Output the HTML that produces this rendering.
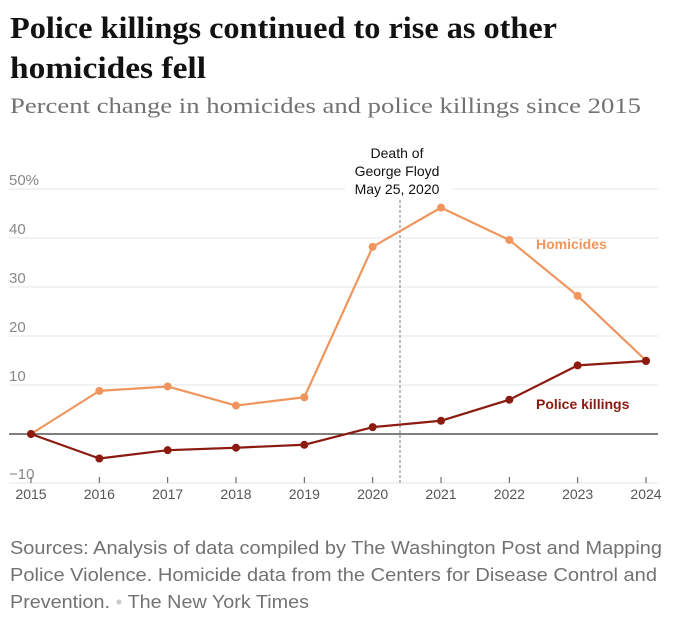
<!DOCTYPE html>
<html><head><meta charset="utf-8"><style>
html,body{margin:0;padding:0;background:#fff;width:680px;height:621px;overflow:hidden}
svg{display:block}
</style></head><body>
<svg id="chart" width="680" height="621" xmlns="http://www.w3.org/2000/svg">
<text x="10" y="38" font-family="Liberation Serif, serif" font-weight="bold" font-size="31" fill="#121212" textLength="547" lengthAdjust="spacingAndGlyphs">Police killings continued to rise as other</text>
<text x="10" y="78" font-family="Liberation Serif, serif" font-weight="bold" font-size="31" fill="#121212" textLength="196" lengthAdjust="spacingAndGlyphs">homicides fell</text>
<text x="10" y="113" font-family="Liberation Serif, serif" font-size="22" fill="#727272" textLength="631" lengthAdjust="spacingAndGlyphs">Percent change in homicides and police killings since 2015</text>
<g id="grid"></g>
<g id="plot"></g>
<text x="10" y="554" font-family="Liberation Sans, sans-serif" font-size="18.5" fill="#727272" textLength="652" lengthAdjust="spacingAndGlyphs">Sources: Analysis of data compiled by The Washington Post and Mapping</text>
<text x="10" y="581" font-family="Liberation Sans, sans-serif" font-size="18.5" fill="#727272" textLength="647" lengthAdjust="spacingAndGlyphs">Police Violence. Homicide data from the Centers for Disease Control and</text>
<text x="10" y="608" font-family="Liberation Sans, sans-serif" font-size="18.5" fill="#727272" textLength="299" lengthAdjust="spacingAndGlyphs">Prevention. <tspan fill="#ccc">•</tspan> The New York Times</text>
</svg>
<script>
const years = [2015,2016,2017,2018,2019,2020,2021,2022,2023,2024];
const homicides = [0,8.8,9.7,5.8,7.5,38.2,46.2,39.6,28.2,15.0];
const policeKillings = [0,-5.0,-3.3,-2.8,-2.2,1.4,2.7,7.0,14.0,14.9];
const yTicks = [-10,0,10,20,30,40,50];
const yTickLabels = ["−10","","10","20","30","40","50%"];
const eventDate = 2020.4;

const NS="http://www.w3.org/2000/svg";
const x = v => 31 + (v-2015)*(646-31)/9;
const y = v => 434 - v*4.9;
function mk(tag, attrs, parent){const e=document.createElementNS(NS,tag);for(const k in attrs)e.setAttribute(k,attrs[k]);parent.appendChild(e);return e;}
const grid=document.getElementById('grid'), plot=document.getElementById('plot');

yTicks.forEach((t,i)=>{
  if(t!==0){
    const l=mk('line',{x1:9,x2:658,y1:y(t),y2:y(t),stroke:'#e6e6e6','stroke-width':1},grid);
    
    
  }
  const tx=mk('text',{x:9,y:y(t)-4,'font-family':'Liberation Sans, sans-serif','font-size':15,fill:'#888'},grid);
  tx.textContent=yTickLabels[i];
  
  
});
const bg=mk('rect',{x:345,y:180,width:107,height:17,fill:'#fff'},grid);



years.forEach(yr=>{
  const t=mk('line',{x1:x(yr),x2:x(yr),y1:477,y2:483,stroke:'#555','stroke-width':1},grid);
  
  
  const tx=mk('text',{x:x(yr),y:499,'text-anchor':'middle','font-family':'Liberation Sans, sans-serif','font-size':14,fill:'#555'},grid);
  tx.textContent=yr;
  
  
});
const zero=mk('line',{x1:9,x2:658,y1:y(0),y2:y(0),stroke:'#333','stroke-width':1.2},grid);



const ev=mk('line',{x1:x(eventDate),x2:x(eventDate),y1:200,y2:483,stroke:'#999','stroke-width':1.3,'stroke-dasharray':'3,2'},plot);


["Death of","George Floyd","May 25, 2020"].forEach((s,i)=>{
  const tx=mk('text',{x:x(eventDate)-3,y:158+i*18,'text-anchor':'middle','font-family':'Liberation Sans, sans-serif','font-size':14,fill:'#121212'},plot);
  tx.textContent=s;
  
  
});

function series(vals,color,name){
  const p=mk('polyline',{points:vals.map((v,i)=>x(years[i])+','+y(v)).join(' '),fill:'none',stroke:color,'stroke-width':2.2,'stroke-linejoin':'round'},plot);
  
  
  vals.forEach((v,i)=>{
    const c=mk('circle',{cx:x(years[i]),cy:y(v),r:4,fill:color},plot);
    
    
  });
}
series(homicides,'#f0955e','homicides');
series(policeKillings,'#8b1a10','police-killings');

const l1=mk('text',{x:536,y:249,'font-family':'Liberation Sans, sans-serif','font-size':14,'font-weight':'bold',fill:'#f0955e'},plot);
l1.textContent='Homicides';


const l2=mk('text',{x:536,y:409,'font-family':'Liberation Sans, sans-serif','font-size':14,'font-weight':'bold',fill:'#8b1a10'},plot);
l2.textContent='Police killings';


</script>
</body></html>
